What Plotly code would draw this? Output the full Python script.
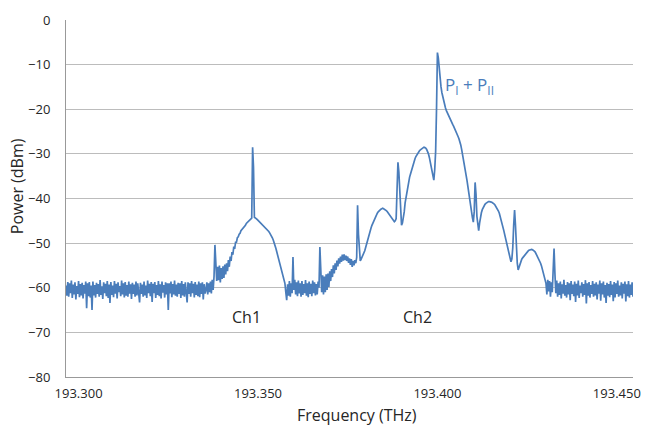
import numpy as np
import plotly.graph_objects as go

# Frequency sweep grid of the spectrum (THz)
FREQ_START_THZ = 193.2965
FREQ_STEP_THZ = 0.00025

# Measured optical power (dBm), one value per sweep point (633 points)
BASELINE_LEFT = [
    -59.5, -61.8, -58.7, -62.0, -59.0, -61.2, -58.4, -62.3, -59.3, -61.5,
    -58.8, -62.6, -59.6, -61.4, -58.5, -62.1, -59.2, -61.7, -58.9, -62.4,
    -59.4, -61.3, -58.6, -64.6, -59.0, -61.9, -58.7, -62.2, -59.5, -65.0,
    -58.6, -61.7, -59.4, -62.2, -58.9, -61.4, -59.2, -62.0, -58.3, -61.6,
    -59.7, -62.5, -58.8, -61.2, -59.1, -61.9, -58.5, -62.3, -59.3, -63.4,
    -58.7, -61.6, -59.5, -62.1, -58.5, -61.3, -59.1, -62.4, -58.8, -61.0,
    -59.6, -61.9, -58.4, -61.5, -59.0, -62.2, -58.7, -61.8, -59.4, -62.0,
    -58.6, -61.3, -59.2, -62.5, -58.9, -61.4, -59.3, -62.0, -58.6, -61.7,
    -59.0, -61.6, -63.3, -58.9, -61.4, -59.3, -62.0, -58.6, -61.7, -59.5,
    -62.3, -58.4, -61.2, -59.1, -61.9, -58.7, -63.2, -59.1, -61.2, -58.7,
    -62.3, -59.4, -61.6, -58.5, -61.9, -59.2, -62.4, -58.6, -61.1, -59.4,
    -62.2, -58.8, -61.5, -59.0, -65.0, -59.0, -61.3, -58.6, -62.1, -59.2,
    -61.5, -58.4, -61.8, -59.3, -62.0, -58.9, -61.4, -59.0, -62.3, -58.5,
    -61.7, -59.2, -62.0, -58.8, -61.5, -63.3, -58.8, -61.4, -59.0, -62.0,
    -58.5, -61.2, -59.1, -62.2, -58.7, -61.6, -59.3, -61.9, -58.6, -62.1,
    -59.0, -61.4, -58.8, -62.6, -59.2, -61.3,
]
CH1 = [
    -60.5, -58.8, -61.5, -59.0, -61.0, -58.6, -61.3, -58.2, -60.5, -57.5,
    -50.4, -56.0, -58.5, -55.3, -58.3, -55.0, -58.8, -55.6, -58.0, -55.2,
    -57.8, -54.8, -57.0, -54.5, -56.3, -53.8, -55.3, -53.0, -54.0, -52.0,
    -52.6, -50.8, -51.3, -49.8, -49.8, -48.8, -48.6, -48.0, -47.8, -47.2,
    -47.0, -46.6, -46.4, -46.2, -46.0, -45.6, -45.4, -45.2, -45.0, -44.8,
    -44.6, -44.4, -28.5, -33.0, -44.2, -44.3, -44.5, -44.7, -44.9, -45.1,
    -45.3, -45.5, -45.7, -45.9, -46.0, -46.3, -46.5, -46.8, -47.0, -47.2,
    -47.4, -47.7, -48.0, -48.4, -48.8, -49.3, -49.8, -50.5, -51.2, -52.0,
    -52.8, -53.5, -54.3, -55.0, -55.8, -56.5, -57.3, -58.2,
]
GAP = [
    -59.0, -61.0, -62.8, -59.2, -61.8, -58.5, -62.0, -59.0, -61.2, -53.1,
    -60.5, -58.2, -61.5, -58.8, -61.9, -58.4, -61.3, -59.0, -62.0, -58.5,
    -61.6, -59.2, -61.2, -58.3, -61.8, -59.0, -62.1, -58.6, -61.4, -59.1,
    -61.9, -58.4, -61.2, -58.8, -61.7, -59.2, -61.5, -58.6, -60.0, -50.9,
    -58.5, -61.0, -57.2, -61.5, -57.5, -61.0, -57.0, -60.5, -56.8, -59.8,
    -56.3, -58.5, -55.8, -57.6, -55.0, -56.8, -54.5, -56.0, -53.9, -55.2,
    -53.4, -54.6, -53.0, -54.2, -52.6, -53.9, -52.5, -53.8, -52.8, -54.0,
    -53.0, -54.4, -53.4, -54.9, -53.6, -55.3, -54.0, -55.0, -53.8, -54.5,
    -53.2,
]
CH2 = [
    -41.5, -48.0, -53.0, -54.0, -53.6, -53.2, -52.8, -52.3, -51.7, -51.0,
    -50.2, -49.3, -48.6, -47.8, -47.2, -46.6, -46.0, -45.5, -45.0, -44.5,
    -44.0, -43.6, -43.3, -43.0, -42.7, -42.5, -42.4, -42.3, -42.2, -42.3,
    -42.4, -42.5, -42.7, -42.9, -43.2, -43.5, -43.8, -44.0, -44.3, -44.6,
    -44.9, -45.2, -45.0, -44.5, -38.0, -31.9, -34.0, -38.0, -42.0, -46.0,
    -45.5, -44.5, -43.0, -41.0, -39.7, -38.5, -37.2, -36.0, -35.2, -34.5,
    -33.7, -33.0, -32.3, -31.6, -31.1, -30.6, -30.2, -29.9, -29.6, -29.3,
    -29.1, -28.9, -28.7, -28.6, -28.5, -28.6, -28.7, -29.0, -29.4, -30.0,
    -30.8, -31.8, -32.9, -34.0, -35.0, -35.9, -33.5, -29.5, -20.0, -7.3,
    -8.5, -11.0, -13.5, -15.0, -16.3, -17.3, -18.2, -19.0, -19.7, -20.3,
    -20.8, -21.3, -21.8, -22.2, -22.6, -23.0, -23.4, -23.8, -24.2, -24.7,
    -25.1, -25.6, -26.1, -26.6, -27.2, -28.0, -29.0, -30.0, -31.2, -32.4,
    -33.6, -34.8, -36.0, -37.5, -39.0, -40.3, -41.7, -43.0, -44.3, -45.3,
    -43.0, -36.4, -39.0, -44.0, -46.5, -47.2, -45.5, -44.0, -43.2, -42.5,
    -42.0, -41.6, -41.3, -41.1, -40.9, -40.8, -40.7, -40.7, -40.7, -40.8,
    -40.9, -41.0, -41.2, -41.4, -41.7, -42.0, -42.4, -42.8, -43.3, -44.0,
    -44.7, -45.4, -46.3, -47.2, -48.1, -49.0, -50.0, -51.0, -51.9, -52.8,
    -53.5, -54.2, -53.5, -51.0, -46.0, -42.6, -46.0, -52.0, -54.5, -56.0,
    -55.3, -54.5, -54.0, -53.6, -53.3, -53.0, -52.7, -52.4, -52.2, -52.0,
    -51.8, -51.6, -51.5, -51.4, -51.4, -51.5, -51.6, -51.8, -52.0, -52.4,
    -52.8, -53.1, -53.5, -54.0, -54.5, -55.1, -55.8, -56.6, -57.5, -58.3,
    -59.0, -61.5, -58.2, -60.8, -58.5, -62.0, -58.8, -61.0, -57.5, -51.2,
    -57.0,
]
BASELINE_RIGHT = [
    -61.2, -58.4, -62.0, -59.0, -61.6, -58.6, -62.4, -59.2, -61.3, -58.2,
    -61.8, -59.4, -62.2, -58.7, -61.5, -59.0, -62.8, -58.5, -61.4, -59.3,
    -61.9, -58.6, -63.2, -59.1, -61.7, -58.4, -62.3, -59.5, -61.2, -58.8,
    -62.0, -59.2, -61.6, -58.3, -63.5, -59.0, -61.8, -58.7, -62.2, -59.4,
    -61.4, -58.5, -62.0, -59.1, -61.7, -58.8, -62.6, -59.3, -61.3, -58.4,
    -62.9, -59.0, -61.5, -58.6, -62.2, -59.4, -63.4, -58.9, -61.8, -59.2,
    -62.1, -58.5, -61.6, -59.3, -63.0, -58.7, -62.2, -59.0, -61.4, -58.4,
    -62.0, -59.5, -61.7, -58.8, -62.4, -59.1, -61.3, -58.6, -63.1, -59.2,
    -61.9, -58.5, -62.2, -59.3, -61.6, -58.8, -62.0,
]
POWER_DBM = BASELINE_LEFT + CH1 + GAP + CH2 + BASELINE_RIGHT

X_TICKS = [193.300, 193.350, 193.400, 193.450]
X_TICK_TEXT = ["193.300", "193.350", "193.400", "193.450"]
Y_TICKS = [0, -10, -20, -30, -40, -50, -60, -70, -80]

CHANNEL_LABELS = ["Ch1", "Ch2"]
CHANNEL_LABEL_FREQ = [193.3469, 193.3945]
CHANNEL_LABEL_POWER = [-66.6, -66.6]

freq = FREQ_START_THZ + FREQ_STEP_THZ * np.arange(len(POWER_DBM))

FONT = "Open Sans"
TEXT = "#262626"
LINE = "#4a7dbb"
GRID = "#bcbcbc"

fig = go.Figure()
fig.add_trace(go.Scatter(x=freq, y=POWER_DBM, mode="lines",
                         line=dict(color=LINE, width=1.7), showlegend=False,
                         hoverinfo="skip"))

annotations = []
for lab, fx, py in zip(CHANNEL_LABELS, CHANNEL_LABEL_FREQ, CHANNEL_LABEL_POWER):
    annotations.append(dict(x=fx, y=py, xref="x", yref="y", text=lab,
                            xanchor="center", yanchor="middle", showarrow=False,
                            font=dict(family=FONT, size=16, color=TEXT)))
annotations.append(dict(x=193.4015, y=-14.6, xref="x", yref="y", xanchor="left",
                        yanchor="middle", text="P<sub>I</sub> + P<sub>II</sub>",
                        showarrow=False, font=dict(family=FONT, size=17, color=LINE)))
annotations.append(dict(x=-0.086, y=0.535, xref="paper", yref="paper",
                        xanchor="center", yanchor="middle",
                        text="Power (dBm)", textangle=-90, showarrow=False,
                        font=dict(family=FONT, size=16, color=TEXT)))
annotations.append(dict(x=0.513, y=-0.106, xref="paper", yref="paper",
                        xanchor="center", yanchor="middle",
                        text="Frequency (THz)", showarrow=False,
                        font=dict(family=FONT, size=16, color=TEXT)))

fig.update_layout(
    width=645, height=426,
    margin=dict(l=66, r=12, t=20, b=49, autoexpand=False),
    paper_bgcolor="white", plot_bgcolor="white",
    font=dict(family=FONT, size=13, color=TEXT),
    annotations=annotations,
    xaxis=dict(range=[FREQ_START_THZ, 193.4545], tickvals=X_TICKS, ticktext=X_TICK_TEXT,
               showgrid=False, zeroline=False, showline=True, linecolor="#999999",
               linewidth=1, ticks="", ticklabelstandoff=4, automargin=False,
               ticklabeloverflow="allow",
               tickfont=dict(family=FONT, size=13, color=TEXT)),
    yaxis=dict(range=[-80, 0], tickvals=Y_TICKS, showgrid=True, gridcolor=GRID,
               gridwidth=1, zeroline=False, showline=True, linecolor="#999999",
               linewidth=1, ticks="", ticklabelstandoff=12, automargin=False,
               tickfont=dict(family=FONT, size=13, color=TEXT)),
)

# Remove the default page margin so the figure fills the browser window exactly.
fig.write_html("out.html",
               config={"displayModeBar": False, "staticPlot": True},
               post_script="document.body.style.margin='0px';"
                           "document.body.style.overflow='hidden';")
